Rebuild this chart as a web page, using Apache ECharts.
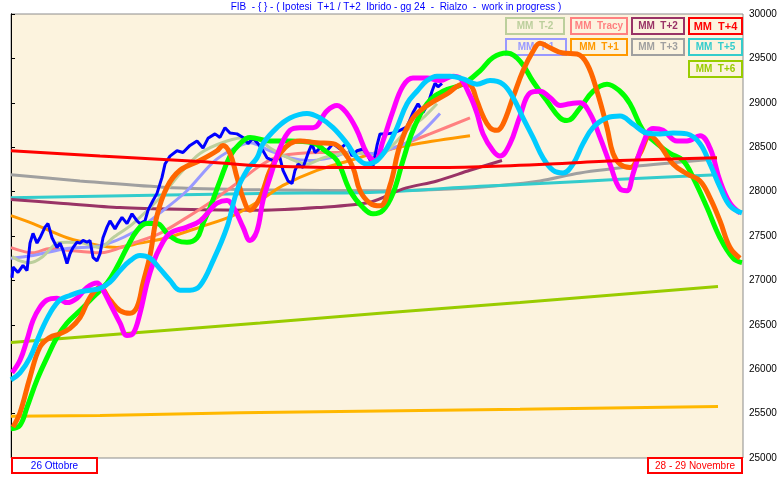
<!DOCTYPE html>
<html><head><meta charset="utf-8">
<script src="https://cdn.jsdelivr.net/npm/echarts@6/dist/echarts.min.js"></script>
<style>html,body{margin:0;padding:0;background:#fff}#c{width:784px;height:478px}</style>
</head><body><div id="c"></div>
<script>
const titleText = "FIB  - { } - ( Ipotesi  T+1 / T+2  Ibrido - gg 24  -  Rialzo  -  work in progress )";
const startLabel = "26 Ottobre";
const endLabel = "28 - 29 Novembre";
const yMin = 25000, yMax = 30000, yStep = 500;
const tMax = 366;

// [session index, price]
const price = [[0.5,27030],[1,27150],[3.5,27090],[6,27170],[8,27110],[9.5,27420],[11,27530],[13,27420],[14.5,27480],[17,27600],[18.5,27640],[20.5,27480],[23,27370],[24.5,27420],[26,27340],[28,27190],[29.5,27300],[31,27370],[33,27430],[34.5,27420],[36,27450],[38,27430],[39.5,27450],[41,27260],[43,27220],[44.5,27300],[46,27480],[48,27600],[49.5,27670],[52,27580],[53.5,27640],[55.5,27710],[58,27640],[60.5,27750],[63,27670],[64.5,27640],[67,27670],[68.5,27790],[71,27900],[73,27980],[75.5,28160],[77,28310],[79.5,28400],[83,28460],[86,28440],[89.5,28520],[93,28570],[96,28490],[98.5,28600],[102,28650],[104.5,28610],[107,28720],[109.5,28660],[113,28650],[116,28610],[118.5,28540],[121,28600],[123.5,28540],[126,28460],[128,28380],[131,28350],[134.5,28380],[136,28240],[138.5,28120],[140.5,28090],[142,28240],[143.5,28310],[146,28270],[148.5,28430],[150.5,28540],[152,28440],[154.5,28490],[158,28460],[161,28540],[164.5,28480],[168,28550],[170.5,28400],[173,28460],[176,28480],[178.5,28400],[181,28290],[183,28520],[184.5,28650],[188,28650],[191,28660],[194.5,28690],[198,28730],[201,28890],[203.5,28990],[206,28890],[208.5,28990],[210.5,29130],[212,29220],[213.5,29180],[215.5,29220]];

const projGreen = [[0,25330],[4.5,25370],[8,25570],[13,25880],[18,26130],[23,26360],[28,26520],[34.5,26660],[41,26810],[48,26970],[53,27150],[58,27370],[63,27560],[68,27640],[73,27640],[78,27530],[83,27450],[88,27430],[93,27480],[96,27640],[99.5,27820],[104.5,28120],[109.5,28400],[114.5,28540],[119.5,28610],[129.5,28570],[139.5,28570],[151,28550],[157,28460],[163,28350],[169.5,28010],[176,27820],[181,27750],[186,27790],[191,27980],[196,28350],[201,28690],[208,28990],[216,29130],[226,29210],[234.5,29360],[241,29510],[248,29560],[254.5,29470],[261,29240],[268,29020],[274.5,28830],[278,28800],[284.5,28940],[291,29130],[298,29210],[304.5,29130],[309.5,28990],[316,28690],[323,28540],[329.5,28430],[336,28350],[341,28160],[348,27820],[354.5,27480],[361,27250],[365.5,27200]];

const projOrange = [[1,25350],[4.5,25510],[9.5,25910],[14.5,26250],[19.5,26360],[24.5,26400],[29.5,26460],[34.5,26580],[39.5,26810],[44.5,26920],[49.5,26780],[54.5,26660],[59.5,26630],[63,26700],[66,26970],[69.5,27280],[73,27730],[78,28050],[84.5,28240],[94.5,28350],[103,28460],[106,28520],[109.5,28430],[113,28160],[116,27930],[119.5,27790],[124.5,27930],[129.5,28240],[134.5,28430],[139.5,28540],[144.5,28570],[153,28550],[161,28540],[166,28460],[171,28270],[174.5,28010],[179.5,27870],[184.5,27840],[189.5,28070],[194.5,28520],[201,28830],[209.5,28990],[218,29100],[226,29210],[229.5,29200],[233,29020],[236,28850],[239.5,28720],[243,28690],[246,28760],[251,29060],[256,29360],[261,29580],[264.5,29670],[269.5,29620],[276,29560],[283,29550],[288,29440],[293,29130],[298,28720],[301,28430],[304.5,28310],[309.5,28270],[314.5,28430],[319.5,28630],[324.5,28520],[331,28310],[338,28200],[344.5,28120],[349.5,27930],[354.5,27670],[359.5,27370],[364.5,27250]];

const projMagenta = [[0.5,25960],[4.5,26100],[8,26330],[11,26550],[14.5,26700],[18,26780],[23,26800],[28,26750],[33,26800],[38,26920],[43,26970],[46,26890],[49.5,26740],[54.5,26520],[58,26380],[61,26400],[64.5,26630],[68,26970],[71,27190],[74.5,27370],[79.5,27530],[88,27600],[94.5,27670],[99.5,27790],[103,27870],[108,27900],[112,27790],[116,27600],[119.5,27450],[123,27560],[126,27900],[129.5,28160],[134.5,28490],[139.5,28690],[144.5,28720],[151,28720],[158,28910],[163,28970],[168,28880],[173,28690],[178,28430],[182,28350],[186,28570],[191,28910],[196,29190],[201,29280],[208,29280],[214.5,29250],[221,29300],[224.5,29280],[229.5,29080],[233,28880],[236,28650],[241,28460],[244.5,28400],[249.5,28540],[254.5,28850],[259.5,29110],[264.5,29130],[269.5,29060],[274.5,28970],[279.5,28990],[284.5,29000],[289.5,28880],[294.5,28610],[299.5,28310],[304.5,28030],[308,28010],[311,28200],[316,28540],[321,28710],[326,28690],[333,28570],[338,28570],[344.5,28630],[349.5,28490],[354.5,28120],[359.5,27870],[364.5,27760]];

const projSky = [[0,25880],[4.5,25960],[9.5,26130],[14.5,26400],[19.5,26630],[24.5,26780],[29.5,26830],[34.5,26870],[39.5,26890],[44.5,26910],[49.5,26980],[54.5,27110],[59.5,27220],[64.5,27280],[69.5,27250],[74.5,27130],[79.5,27000],[84.5,26890],[89.5,26890],[94.5,26940],[101,27220],[108,27600],[113,28010],[118,28240],[123,28380],[126,28540],[133,28720],[139.5,28830],[148,28880],[154.5,28830],[161,28720],[168,28540],[173,28380],[178,28310],[183,28350],[188,28490],[193,28720],[198,28990],[203,29130],[208,29250],[213,29300],[219.5,29300],[226,29270],[233,29210],[239.5,29250],[246,29210],[251,29060],[256,28830],[261,28610],[266,28380],[271,28240],[276,28210],[281,28310],[286,28540],[291,28720],[298,28830],[304.5,28850],[311,28760],[318,28660],[324.5,28650],[331,28660],[338,28650],[344.5,28540],[349.5,28310],[354.5,28050],[359.5,27840],[365.5,27760]];

const mmTm2 = [[0.5,27270],[4.5,27220],[9.5,27200],[16,27270],[23,27420],[28,27430],[36,27420],[44.5,27370],[51,27480],[61,27640],[74.5,27930],[84.5,28200],[94.5,28430],[108,28570],[118,28610],[124.5,28580],[129.5,28490],[139.5,28370],[148,28310],[156,28380],[166,28430],[174.5,28440],[183,28380],[189.5,28490],[198,28690],[206,28830],[213,28990]];
const mmTm1 = [[0,27250],[11,27280],[28,27360],[44.5,27390],[61,27540],[74.5,27760],[88,28010],[101,28330],[111,28480],[119.5,28550],[129.5,28460],[139.5,28380],[149.5,28350],[159.5,28380],[169.5,28440],[181,28430],[189.5,28480],[197,28540],[204.5,28650],[214.5,28880]];
const mmTracy = [[0,27370],[11,27310],[19.5,27360],[28,27340],[44.5,27310],[61,27420],[74.5,27530],[88,27710],[101,27900],[114.5,28120],[124.5,28290],[134.5,28400],[154.5,28440],[169.5,28440],[182,28430],[194.5,28520],[209.5,28650],[229.5,28830]];
const mmTp1 = [[0,27730],[11,27640],[28,27480],[44.5,27390],[53,27370],[64.5,27420],[78,27480],[94.5,27600],[111,27730],[124.5,27900],[136,28070],[153,28240],[169.5,28350],[186,28460],[203,28540],[229.5,28630]];
const mmTp2 = [[0,27910],[24.5,27870],[54.5,27820],[84.5,27800],[124.5,27790],[153,27820],[179.5,27880],[196,28030],[213,28120],[229.5,28240],[245.5,28350]];
const mmTp3 = [[0,28190],[34.5,28120],[76,28050],[124.5,28020],[186,28010],[219.5,28030],[244.5,28070],[264.5,28120],[284.5,28210],[314.5,28290],[353,28370]];
const mmTp4 = [[0,28460],[44.5,28400],[94.5,28340],[124.5,28290],[169.5,28270],[204.5,28270],[234.5,28280],[269.5,28310],[304.5,28350],[353,28380]];
const mmTp5 = [[0,27930],[124.5,27980],[179.5,27990],[234.5,28060],[264.5,28090],[304.5,28140],[353,28190]];
const mmTp6 = [[0,26300],[124.5,26520],[184.5,26630],[254.5,26750],[353.5,26930]];
const lowLine = [[0,25470],[44.5,25480],[114.5,25510],[254.5,25550],[353.5,25580]];

const legendNames = ["MM  T-2","MM  Tracy","MM  T+2","MM  T+4","MM  T-1","MM  T+1","MM  T+3","MM  T+5","MM  T+6"];

const C = {
  tm2:'#BCCF9C', tracy:'#FF8080', tp2:'#993366', tp4:'#FF0000', tm1:'#9999FF',
  tp1:'#FF9900', tp3:'#A0A0A0', tp5:'#33CCCC', tp6:'#99CC00', low:'#FFB800',
  green:'#00FF00', orange:'#FF6600', magenta:'#FF00FF', sky:'#00CCFF', price:'#0000FF'
};

function line(name, data, color, width, smooth, z){
  return {name, type:'line', data, showSymbol:false, symbol:'none', smooth: smooth,
    lineStyle:{color, width}, itemStyle:{color}, z, animation:false};
}

const series = [
  line('low', lowLine, C.low, 3, false, 2),
  line('MM T+6', mmTp6, C.tp6, 3, false, 2),
  line('MM T+3', mmTp3, C.tp3, 3, 0.3, 3),
  line('MM T+5', mmTp5, C.tp5, 3, 0.3, 3),
  line('MM T+2', mmTp2, C.tp2, 3, 0.3, 3),
  line('MM T+1', mmTp1, C.tp1, 3, 0.3, 3),
  line('MM Tracy', mmTracy, C.tracy, 3, 0.3, 3),
  line('MM T-1', mmTm1, C.tm1, 3, 0.3, 3),
  line('MM T-2', mmTm2, C.tm2, 3, 0.3, 3),
  line('price', price, C.price, 3, false, 4),
  line('green', projGreen, C.green, 5, 0.4, 5),
  line('orange', projOrange, C.orange, 5, 0.4, 5),
  line('magenta', projMagenta, C.magenta, 5, 0.4, 6),
  line('sky', projSky, C.sky, 5, 0.4, 6),
  line('MM T+4', mmTp4, C.tp4, 3, 0.3, 7)
];

// legend boxes layout
const legendColors = [C.tm2, C.tracy, C.tp2, C.tp4, C.tm1, C.tp1, C.tp3, C.tp5, C.tp6];
const colX = [506, 571, 632, 689];
const colW = [58, 56, 52, 53];
const rowY = [18, 39, 61];
const graphics = [];
legendNames.forEach((n, i) => {
  let r, c;
  if (i < 4) { r = 0; c = i; } else if (i < 8) { r = 1; c = i - 4; } else { r = 2; c = 3; }
  const x = colX[c], y = rowY[r], w = (i === 4 ? 60 : colW[c]), h = 16;
  graphics.push({type:'rect', z:1, shape:{x, y, width:w, height:h}, style:{fill:'none', stroke:legendColors[i], lineWidth:2}});
  graphics.push({type:'text', z:1, x: x + w/2, y: y + h/2 + 0.5, style:{text:n, fill:legendColors[i], font:(i===3?'bold 11px':'bold 10px') + ' "Liberation Sans", Arial, sans-serif', align:'center', verticalAlign:'middle'}});
});
// bottom date boxes
graphics.push({type:'rect', z:10, shape:{x:12, y:458, width:85, height:15}, style:{fill:'#fff', stroke:'#FF0000', lineWidth:2}});
graphics.push({type:'text', z:10, x:54.5, y:466, style:{text:startLabel, fill:'#0000FF', font:'10px "Liberation Sans Narrow", "Liberation Sans", Arial, sans-serif', align:'center', verticalAlign:'middle'}});
graphics.push({type:'rect', z:10, shape:{x:648, y:458, width:94, height:15}, style:{fill:'#fff', stroke:'#FF0000', lineWidth:2}});
graphics.push({type:'text', z:10, x:695, y:466, style:{text:endLabel, fill:'#FF0000', font:'10px "Liberation Sans Narrow", "Liberation Sans", Arial, sans-serif', align:'center', verticalAlign:'middle'}});
// title
graphics.push({type:'text', z:10, x:396, y:7, style:{text:titleText, fill:'#0000FF', font:'10px "Liberation Sans", Arial, sans-serif', align:'center', verticalAlign:'middle'}});

const chart = echarts.init(document.getElementById('c'), null, {renderer:'canvas'});
chart.setOption({
  animation:false,
  backgroundColor:'#ffffff',
  grid:{left:11, right:41, top:14, bottom:20, show:true, backgroundColor:'#FCF3DE', borderColor:'#8C8C8C', borderWidth:1},
  xAxis:{type:'value', min:0, max:tMax, show:false},
  yAxis:[
    {type:'value', position:'right', min:yMin, max:yMax, interval:yStep,
     axisLine:{show:true, lineStyle:{color:'#000', width:1}},
     axisTick:{show:true, length:4, lineStyle:{color:'#000'}},
     axisLabel:{show:true, color:'#000', fontSize:10, margin:6, formatter: v => String(v),
       fontFamily:'"Liberation Sans Narrow","Liberation Sans",Arial,sans-serif'},
     splitLine:{show:false}},
    {type:'value', position:'left', min:yMin, max:yMax, interval:yStep,
     axisLine:{show:true, lineStyle:{color:'#000', width:1}},
     axisTick:{show:false}, axisLabel:{show:false}, splitLine:{show:false}}
  ],
  graphic: graphics,
  series
});
</script>
</body></html>
